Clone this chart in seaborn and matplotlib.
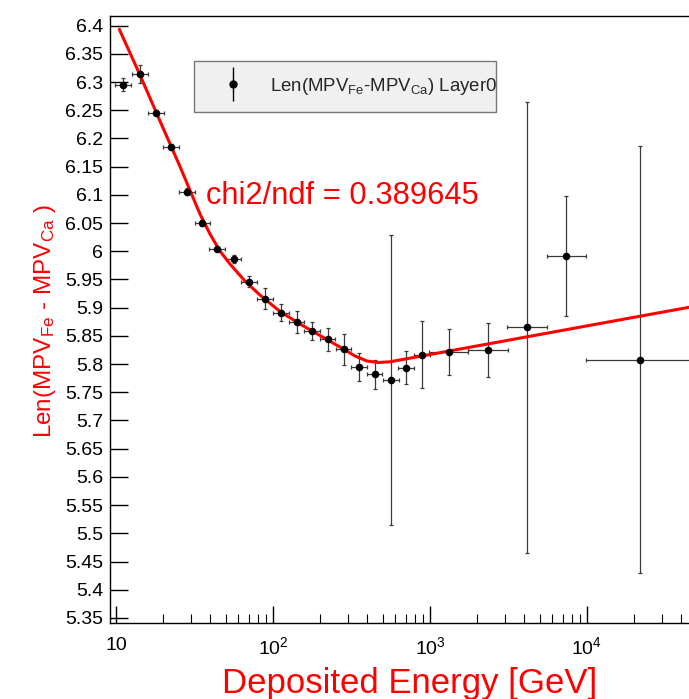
import numpy as np
import seaborn as sns
import matplotlib
matplotlib.use("Agg")
import matplotlib.pyplot as plt
from matplotlib.ticker import FixedLocator, LogLocator, NullFormatter, MultipleLocator, FuncFormatter
from matplotlib.legend_handler import HandlerErrorbar

# measured points (energy in GeV)
energy = [11.1, 14.2, 18.0, 22.4, 28.2, 35.5, 44.2, 56.1, 70.6, 88.9, 112, 141.5, 177,
          222.6, 282, 353, 444, 562, 703, 889, 1315, 2339, 4150, 7380, 21700]
value = [6.295, 6.314, 6.246, 6.1855, 6.1057, 6.0497, 6.004, 5.986, 5.946, 5.916, 5.891,
         5.875, 5.859, 5.844, 5.826, 5.795, 5.782, 5.772, 5.7936, 5.8167, 5.822, 5.825,
         5.865, 5.992, 5.808]
value_err = [0.0115, 0.016, 0.005, 0.004, 0.006, 0.005, 0.003, 0.007, 0.010, 0.019, 0.015,
             0.0195, 0.016, 0.020, 0.027, 0.025, 0.026, 0.257, 0.029, 0.059, 0.041, 0.0485,
             0.40, 0.106, 0.378]
# bin half width in decades
bin_halfwidth_dex = [0.05] * 20 + [0.125] * 4 + [0.34]

# fit curve
fit_energy = [10.5, 14.22, 19.07, 25.56, 34.28, 39.70, 45.96, 53.22, 66.31, 82.63, 110.8,
              148.6, 199.3, 267.2, 333.0, 396.9, 466.6, 556.2, 644.0, 44640]
fit_value = [6.3936, 6.3126, 6.2310, 6.1504, 6.0661, 6.0307, 6.0005, 5.9775, 5.9473, 5.9225,
             5.8933, 5.8711, 5.8507, 5.8303, 5.8144, 5.8055, 5.8028, 5.8041, 5.8073, 5.9007]

chi2_text = "chi2/ndf = 0.389645"
legend_label = r"Len(MPV$_{\mathrm{Fe}}$-MPV$_{\mathrm{Ca}}$) Layer0"

sns.set_theme(style="ticks")
plt.rcParams['font.family'] = ['Liberation Sans', 'DejaVu Sans']
plt.rcParams['mathtext.fontset'] = 'custom'
plt.rcParams['mathtext.rm'] = 'Liberation Sans'
plt.rcParams['mathtext.it'] = 'Liberation Sans:italic'
plt.rcParams['mathtext.bf'] = 'Liberation Sans:bold'

fig = plt.figure(figsize=(6.89, 6.99), dpi=100)
ax = fig.add_axes([110 / 689, 1 - 622.7 / 699, 582 / 689, 607 / 699])
ax.set_xscale("log")

e = np.array(energy)
d = np.array(bin_halfwidth_dex)
xerr = [e - e * 10 ** (-d), e * 10 ** d - e]

ax.errorbar(energy, value, xerr=xerr, yerr=value_err, fmt="none", ecolor="#3a3a3a",
            elinewidth=0.9, capsize=1.6, capthick=0.9, zorder=2)
sns.lineplot(x=fit_energy, y=fit_value, color="red", linewidth=2.2, sort=False,
             estimator=None, ax=ax, zorder=3)
sns.scatterplot(x=energy, y=value, color="black", s=30, linewidth=0, ax=ax, zorder=4)

# legend proxy drawn outside the visible range
proxy = ax.errorbar([1e7], [7.0], yerr=[0.1], fmt="o", color="black", ms=5,
                    elinewidth=1, capsize=0)
leg = ax.legend([proxy], [legend_label], loc="center left",
                bbox_to_anchor=(0.1443, 0.8364, 0.5189, 0.0951), mode="expand",
                fontsize=13.4, frameon=True, fancybox=False, framealpha=1,
                facecolor="#f0f0f0", edgecolor="#777777", borderpad=0.8,
                handlelength=2.6, handletextpad=0.7, borderaxespad=0,
                handler_map={proxy: HandlerErrorbar(yerr_size=0.9)})
leg.get_frame().set_linewidth(1.0)

ax.set_xlim(9.16, 46700)
ax.set_ylim(5.3415, 6.4177)

ax.xaxis.set_major_locator(FixedLocator([10, 100, 1000, 10000]))
ax.set_xticklabels(["10", "$10^{2}$", "$10^{3}$", "$10^{4}$"])
ax.xaxis.set_minor_locator(LogLocator(base=10, subs=np.arange(2, 10), numticks=20))
ax.xaxis.set_minor_formatter(NullFormatter())
ax.yaxis.set_major_locator(MultipleLocator(0.05))
ax.yaxis.set_major_formatter(FuncFormatter(lambda v, _: f"{v:g}"))

ax.tick_params(axis="both", which="major", direction="in", color="black", width=1,
               labelsize=14, labelcolor="black")
ax.tick_params(axis="x", which="major", length=12.5, pad=10)
ax.tick_params(axis="x", which="minor", direction="in", length=6.5, width=0.8, color="black")
ax.tick_params(axis="y", which="major", length=13, pad=5)
ax.tick_params(axis="y", which="minor", left=False)

for side in ["left", "bottom", "top"]:
    ax.spines[side].set_color("black")
    ax.spines[side].set_linewidth(1.0)
ax.spines["right"].set_visible(False)

ax.set_xlabel("Deposited Energy [GeV]", color="red", fontsize=25)
ax.xaxis.set_label_coords(0.514, -0.0725)
ax.set_ylabel(r"Len(MPV$_{\mathrm{Fe}}$ - MPV$_{\mathrm{Ca}}$ )", color="red", fontsize=17.5)
ax.yaxis.set_label_coords(-0.09, 0.497)

fig.text(206 / 689, 1 - 204.3 / 699, chi2_text, color="red", fontsize=22.2,
         ha="left", va="baseline")

fig.savefig("out.png", dpi=100)
